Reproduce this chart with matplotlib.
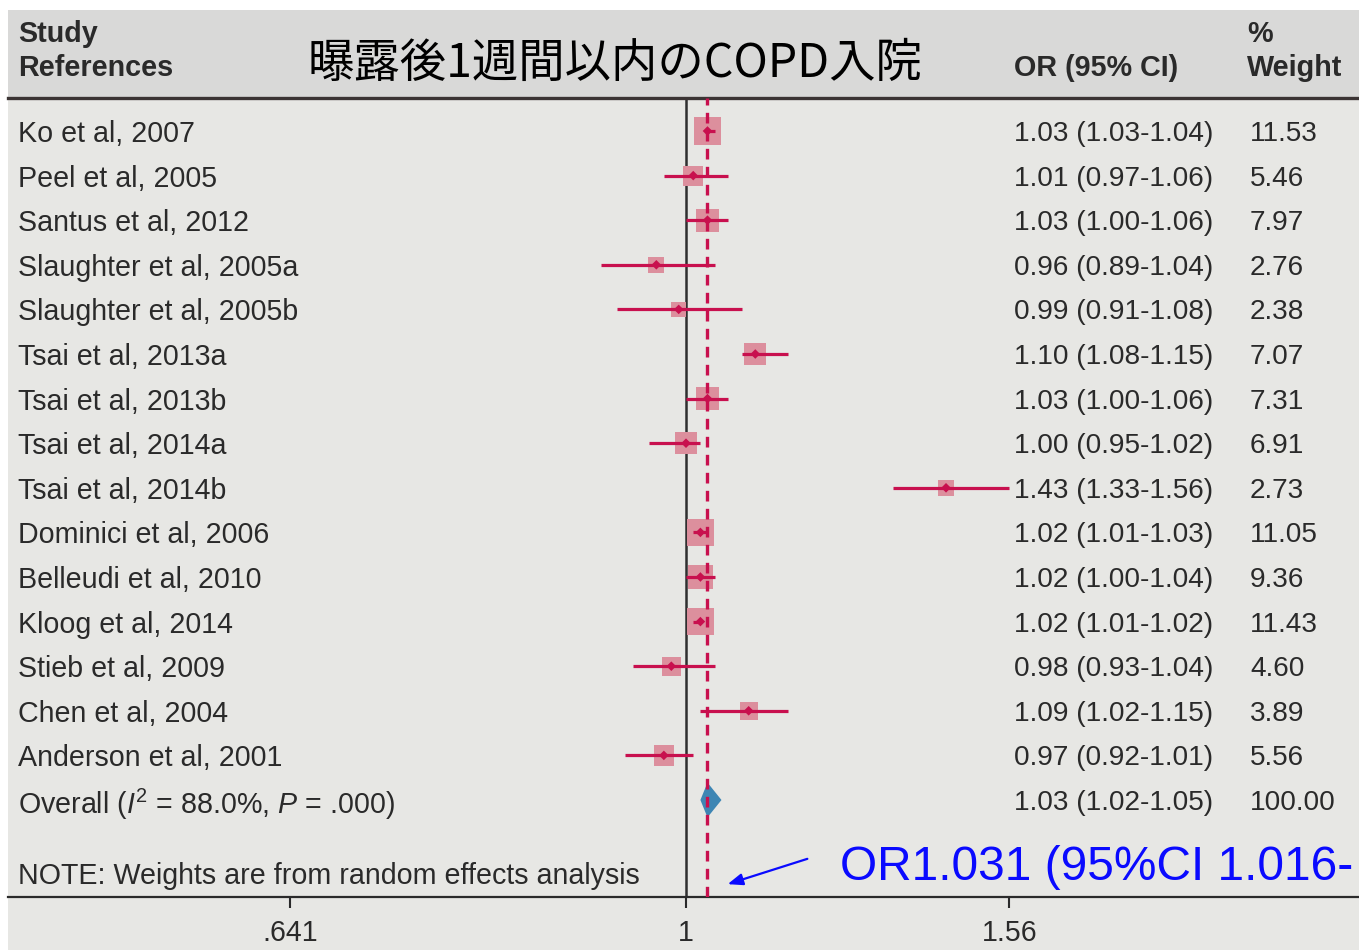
import numpy as np
import matplotlib
matplotlib.use("Agg")
import matplotlib.pyplot as plt
from matplotlib import transforms
from matplotlib.patches import Rectangle, Polygon
from matplotlib.ticker import NullLocator, FixedLocator, FixedFormatter

plt.rcParams['font.family'] = ['Liberation Sans', 'DejaVu Sans']
plt.rcParams['mathtext.fontset'] = 'custom'
plt.rcParams['mathtext.rm'] = 'Liberation Sans'
plt.rcParams['mathtext.it'] = 'Liberation Sans:italic'

studies = ["Ko et al, 2007", "Peel et al, 2005", "Santus et al, 2012",
           "Slaughter et al, 2005a", "Slaughter et al, 2005b", "Tsai et al, 2013a",
           "Tsai et al, 2013b", "Tsai et al, 2014a", "Tsai et al, 2014b",
           "Dominici et al, 2006", "Belleudi et al, 2010", "Kloog et al, 2014",
           "Stieb et al, 2009", "Chen et al, 2004", "Anderson et al, 2001"]
or_est = [1.03, 1.01, 1.03, 0.96, 0.99, 1.10, 1.03, 1.00, 1.43, 1.02, 1.02, 1.02, 0.98, 1.09, 0.97]
ci_lo = [1.03, 0.97, 1.00, 0.89, 0.91, 1.08, 1.00, 0.95, 1.33, 1.01, 1.00, 1.01, 0.93, 1.02, 0.92]
ci_hi = [1.04, 1.06, 1.06, 1.04, 1.08, 1.15, 1.06, 1.02, 1.56, 1.03, 1.04, 1.02, 1.04, 1.15, 1.01]
weights = [11.53, 5.46, 7.97, 2.76, 2.38, 7.07, 7.31, 6.91, 2.73, 11.05, 9.36, 11.43, 4.60, 3.89, 5.56]

overall_label = r"Overall ($\mathit{I}^2$ = 88.0%, $\mathit{P}$ = .000)"
overall = (1.03, 1.02, 1.05)
overall_weight = 100.00

tick_pos = [0.58, 1.0, 1.56]
tick_labels = [".641", "1", "1.56"]

title = "曝露後1週間以内のCOPD入院"
note = "NOTE: Weights are from random effects analysis"
callout = "OR1.031 (95%CI 1.016-"

W, H = 1359, 950
txt = '#2a2a2a'
red = '#c8104e'
pink = '#dc8f9d'
fs = 20.6

fig = plt.figure(figsize=(W / 100, H / 100), dpi=100, facecolor='white')

# background bands
fig.patches.append(Rectangle((8 / W, (H - 98) / H), 1, 88 / H, transform=fig.transFigure,
                             facecolor='#d9d9d8', edgecolor='none', zorder=-2))
fig.patches.append(Rectangle((8 / W, 0), 1, (H - 98) / H, transform=fig.transFigure,
                             facecolor='#e7e7e4', edgecolor='none', zorder=-2))

ax = fig.add_axes([8 / W, (H - 897) / H, 1 - 8 / W, (897 - 98) / H])
ax.set_facecolor('none')
ax.set_xscale('log')
ax.set_xlim(np.exp((8 - 686) / 727), np.exp((W - 686) / 727))
ax.set_ylim((897 - 131) / 44.6, (98 - 131) / 44.6)

for s in ['left', 'right']:
    ax.spines[s].set_visible(False)
ax.spines['top'].set_color('#3b3434')
ax.spines['top'].set_linewidth(2.4)
ax.spines['bottom'].set_color('#2a2a2a')
ax.spines['bottom'].set_linewidth(1.6)

ax.xaxis.set_major_locator(FixedLocator(tick_pos))
ax.xaxis.set_major_formatter(FixedFormatter(tick_labels))
ax.xaxis.set_minor_locator(NullLocator())
ax.tick_params(axis='x', direction='out', length=8, width=1.5, color='#2a2a2a',
               labelsize=fs, labelcolor=txt, pad=8)
ax.set_yticks([])

rows = np.arange(len(studies))
ax.axvline(1.0, color='#2f2f2f', lw=1.8, zorder=1)
ax.axvline(overall[0], color=red, lw=2.4, ls=(0, (3.2, 2.2)), zorder=5)

# study estimates: box side grows with sqrt(weight)
side_pt = (5.0 + 6.5 * np.sqrt(weights)) * 0.72
ax.scatter(or_est, rows, s=side_pt ** 2, marker='s', color=pink,
           edgecolor='none', zorder=2)
ax.hlines(rows, ci_lo, ci_hi, color=red, lw=2.3, zorder=3)
ax.scatter(or_est, rows, s=24, marker='D', color=red, edgecolor='none', zorder=4)

# pooled estimate
yo = len(studies)
ax.add_patch(Polygon([(overall[1], yo), (overall[0], yo - 0.39), (overall[2], yo),
                      (overall[0], yo + 0.39)], closed=True, facecolor='#3e86b4',
                     edgecolor='none', zorder=4))

# text columns
tr = transforms.blended_transform_factory(fig.transFigure, ax.transData)
for i, name in enumerate(studies):
    ax.text(18 / W, i, name, transform=tr, fontsize=fs, color=txt, va='center_baseline')
    ax.text(1014 / W, i, f"{or_est[i]:.2f} ({ci_lo[i]:.2f}-{ci_hi[i]:.2f})",
            transform=tr, fontsize=20.2, color=txt, va='center_baseline')
    ax.text(1250 / W, i, f"{weights[i]:.2f}", transform=tr, fontsize=20.2, color=txt,
            va='center_baseline')
ax.text(18 / W, yo, overall_label, transform=tr, fontsize=fs, color=txt, va='center_baseline')
ax.text(1014 / W, yo, f"{overall[0]:.2f} ({overall[1]:.2f}-{overall[2]:.2f})",
        transform=tr, fontsize=20.2, color=txt, va='center_baseline')
ax.text(1250 / W, yo, f"{overall_weight:.2f}", transform=tr, fontsize=20.2, color=txt,
        va='center_baseline')

fig.text(18 / W, 1 - 873 / H, note, fontsize=fs, color=txt, va='center_baseline')

# header
hd = dict(fontsize=20.7, color=txt, fontweight='bold', va='center_baseline')
fig.text(18 / W, 1 - 31 / H, "Study", **hd)
fig.text(18 / W, 1 - 65 / H, "References", **hd)
fig.text(1014 / W, 1 - 65 / H, "OR (95% CI)", **hd)
fig.text(1247 / W, 1 - 31 / H, "%", **hd)
fig.text(1247 / W, 1 - 65 / H, "Weight", **hd)
fig.text(308 / W, 1 - 58 / H, title, fontsize=33.4, color='black',
         family=['Noto Sans CJK JP', 'DejaVu Sans'], va='center_baseline')

# callout
fig.text(840 / W, 1 - 862 / H, callout, fontsize=34.5, color='#0a0aff', va='center_baseline')
ax.annotate('', xy=(725, H - 885), xycoords='figure pixels', xytext=(810, H - 858),
            textcoords='figure pixels',
            arrowprops=dict(arrowstyle='-|>,head_length=0.9,head_width=0.35',
                            color='#0a0aff', lw=1.6))

fig.savefig('out.png', dpi=100, facecolor=fig.get_facecolor())
